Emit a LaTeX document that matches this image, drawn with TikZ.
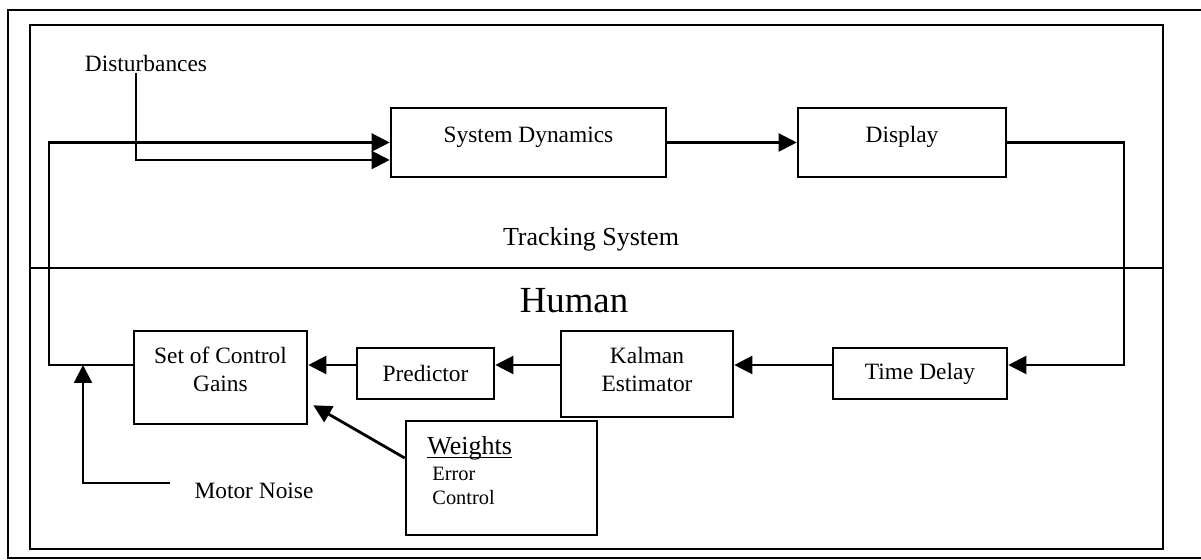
\documentclass[tikz,border=0pt]{standalone}
\usepackage{fontspec}
\setmainfont{Liberation Serif}
\usetikzlibrary{arrows.meta}

\begin{document}
\begin{tikzpicture}[
            x=0.5pt, y=-0.5pt,
            every node/.style={font=\fontsize{11.7}{14}\selectfont, inner sep=0pt},
            blk/.style={rectangle, draw, line width=1.3pt, align=center},
            topblk/.style={blk, text height=8.5pt, text depth=8.5pt},
            arr/.style={draw, line width=1.1pt, -{Triangle[length=9pt,width=9pt]}},
            frame/.style={draw, line width=0.9pt}
        ]
        \useasboundingbox (0,0) rectangle (1201,560);
        \draw[frame] (8,10) rectangle (1215,558);
        \draw[frame] (30,25) rectangle (1163,549);
        \draw[frame] (30,268) -- (1163,268);

        \node[topblk, minimum width=137.5pt, minimum height=34.5pt] (sysdyn) at (528.5,142.5) {System Dynamics};
        \node[topblk, minimum width=104pt, minimum height=34.5pt] (disp) at (902,142.5) {Display};
        \node[blk, minimum width=87pt, minimum height=25.5pt] (delay) at (920,373.5) {Time Delay};
        \node[blk, minimum width=86pt, minimum height=43pt, text depth=5pt] (kalman) at (647,374) {Kalman\\Estimator};
        \node[blk, minimum width=68.5pt, minimum height=25.5pt] (pred) at (425.5,373.5) {Predictor};
        \node[blk, minimum width=86.5pt, minimum height=46.5pt, text depth=8.5pt] (gains) at (220.5,377.5) {Set of Control\\Gains};
        \node[blk, minimum width=95.5pt, minimum height=57pt] (weights) at (501.5,478) {};
        \node[anchor=base west, font=\fontsize{13}{15}\selectfont] (wtitle) at (427,455) {\underline{\smash{Weights}}};
        \node[anchor=base west, font=\fontsize{10.2}{12}\selectfont] (werror) at (432,481) {Error};
        \node[anchor=base west, font=\fontsize{10.2}{12}\selectfont] (wcontrol) at (432,505) {Control};

        \node[anchor=base] (dist) at (146,72) {Disturbances};
        \node[anchor=base] (noise) at (254,499) {Motor Noise};
        \node[anchor=base, font=\fontsize{13}{15}\selectfont] (tracking) at (591,246) {Tracking System};
        \node[anchor=base, font=\fontsize{18.4}{22}\selectfont] (human) at (574,313) {Human};

        \coordinate (row) at (0,365);
        \coordinate (lft) at (49,142.5);
        \coordinate (rgt) at (1124,142.5);
        \coordinate (nstart) at (170,483);
        \coordinate (njoin) at (83,365);

        \draw[arr] (gains.west |- row) -| (lft) -- (sysdyn.west);
        \draw[arr] ([xshift=-5pt]dist.south) |- ([yshift=-8.75pt]sysdyn.west);
        \draw[arr] (sysdyn.east) -- (disp.west);
        \draw[arr] (disp.east) -- (rgt) |- (delay.east |- row);
        \draw[arr] (delay.west |- row) -- (kalman.east |- row);
        \draw[arr] (kalman.west |- row) -- (pred.east |- row);
        \draw[arr] (pred.west |- row) -- (gains.east |- row);
        \draw[arr] (nstart) -| (njoin);
        \draw[arr, line width=1.4pt] ([yshift=10pt]weights.west) -- ([shift={(2.5pt,10pt)}]gains.south east);
    \end{tikzpicture}
\end{document}
